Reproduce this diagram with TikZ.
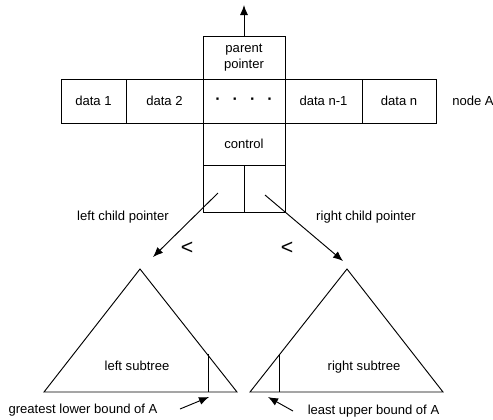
\documentclass[tikz,border=0pt]{standalone}
\usepackage{fontspec}
\setmainfont{Liberation Sans}
\usetikzlibrary{arrows.meta}

\tikzset{
  cell/.style={draw,line width=0.7pt,inner sep=0pt,minimum height=33pt},
  ptr/.style={line width=0.7pt,-{Latex[length=7.5pt,width=6pt]}},
  lbl/.style={inner sep=0pt,font=\fontsize{9.8}{11.5}\selectfont}
}

\begin{document}
\begin{tikzpicture}[x=0.75pt,y=-0.75pt,font=\fontsize{9.8}{11.5}\selectfont]
\useasboundingbox (0,0) rectangle (493,419);
% node record
\node[cell,minimum width=61.5pt,minimum height=32.25pt,align=center] (parent) at (244,57.5) {parent\\[1pt]pointer};
\node[cell,minimum width=48.75pt] (d1) at (93.5,101) {data 1};
\node[cell,minimum width=57.75pt] (d2) at (164.5,101) {data 2};
\node[cell,minimum width=61.5pt,font=\fontsize{12}{12}\bfseries] (dots) at (244,101) {·\hspace{9pt}·\hspace{9pt}·\hspace{9pt}·};
\node[cell,minimum width=57.75pt] (dn1) at (323.5,101) {data n-1};
\node[cell,minimum width=55.5pt] (dn) at (399,101) {data n};
\node[lbl,anchor=west] (nodeA) at (452,101) {node A};
\node[cell,minimum width=61.5pt,minimum height=31.5pt] (ctrl) at (244,144) {control};
\node[cell,minimum width=30.75pt,minimum height=35.25pt] (lptr) at (223.5,188.5) {};
\node[cell,minimum width=30.75pt,minimum height=35.25pt] (rptr) at (264.5,188.5) {};
% pointers
\coordinate (top) at (244,5);
\coordinate (ltail) at (218,193);
\coordinate (ltip) at (153,257);
\coordinate (rtail) at (265,195);
\coordinate (rtip) at (343,261);
\draw[ptr] (parent.north) -- (top);
\draw[ptr] (ltail) -- (ltip);
\draw[ptr] (rtail) -- (rtip);
\node[lbl] (lcp) at (123,217) {left child pointer};
\node[lbl] (rcp) at (366,217) {right child pointer};
\node[lbl,font=\fontsize{16}{18}\selectfont] (lt1) at (187,248) {<};
\node[lbl,font=\fontsize{16}{18}\selectfont] (lt2) at (287,248) {<};
% subtrees
\draw[line width=0.7pt] (44,392) -- (140,269) -- (237,392) -- cycle;
\draw[line width=0.7pt] (208,354) -- (208,392);
\draw[line width=0.7pt] (250,392) -- (347,269) -- (443,392) -- cycle;
\draw[line width=0.7pt] (279,354) -- (279,392);
\node[lbl] (ls) at (137,366) {left subtree};
\node[lbl] (rs) at (364,367) {right subtree};
% bounds
\node[lbl] (glb) at (83,410) {greatest lower bound of A};
\node[lbl] (lub) at (373.5,411) {least upper bound of A};
\coordinate (gtail) at (180,409);
\coordinate (gtip) at (209,397);
\coordinate (utail) at (293,411);
\coordinate (utip) at (268,397);
\draw[ptr] (gtail) -- (gtip);
\draw[ptr] (utail) -- (utip);
\end{tikzpicture}
\end{document}
